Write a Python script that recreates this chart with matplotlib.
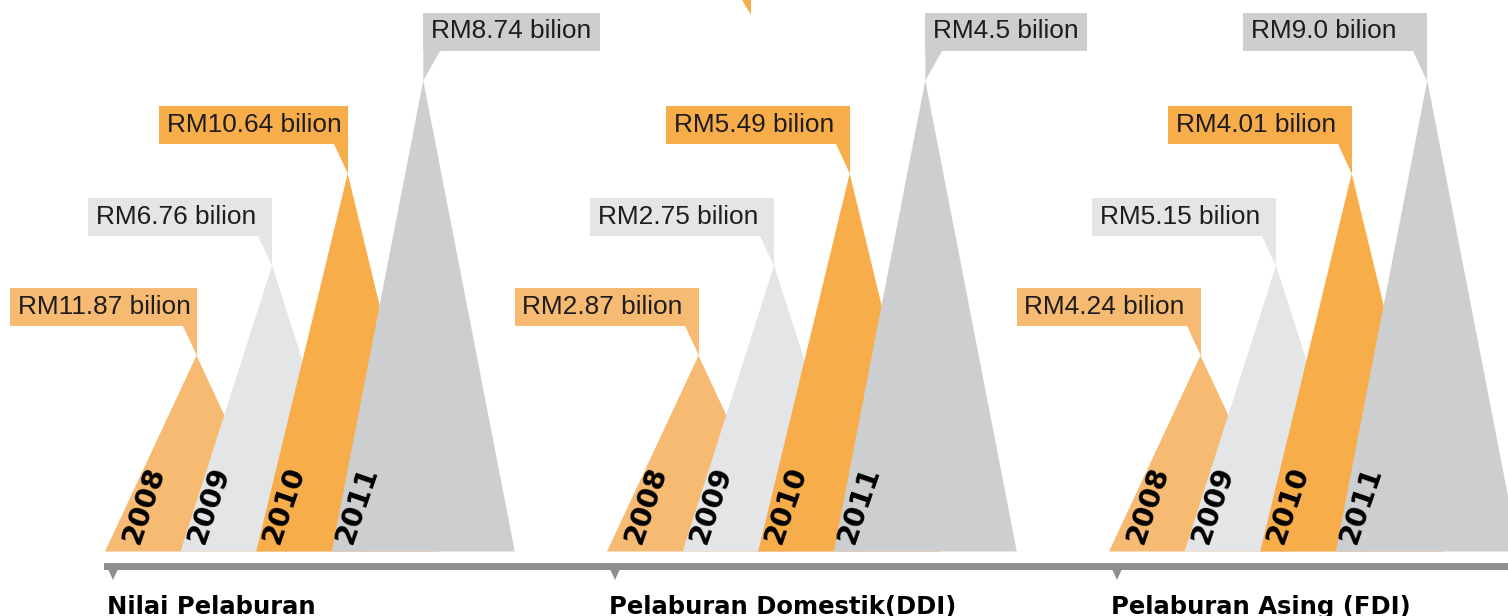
import matplotlib
matplotlib.use('Agg')
import matplotlib.pyplot as plt
from matplotlib.patches import Polygon, Rectangle

# ---- data ----
years = ['2008', '2009', '2010', '2011']
group_titles = ['Nilai Pelaburan', 'Pelaburan Domestik(DDI)', 'Pelaburan Asing (FDI)']
nilai_pelaburan = [11.87, 6.76, 10.64, 8.74]
pelaburan_ddi = [2.87, 2.75, 5.49, 4.5]
pelaburan_fdi = [4.24, 5.15, 4.01, 9.0]
groups = [nilai_pelaburan, pelaburan_ddi, pelaburan_fdi]

# ---- layout / style ----
W, H = 1508, 616
fig = plt.figure(figsize=(W / 100, H / 100), dpi=100)
ax = fig.add_axes([0, 0, 1, 1])
ax.set_xlim(0, W)
ax.set_ylim(H, 0)
ax.axis('off')

year_colors = ['#F7BA73', '#E4E5E7', '#F8AD4B', '#CDCED0']
text_color = '#1e1c1d'
bar_color = '#8D8D8D'
base_y = 551.5
group_x0 = 105
group_step = 502
tri_step = 75.6
half_w = 91.5
peak_heights = [196, 286, 378, 471]
year_label_dx = [39, 29, 28, 25]
label_font = 'Liberation Sans'
label_size = 18.9
box_h = 38
box_gap = 30
fixed_box_w = 184

renderer = fig.canvas.get_renderer()


def text_width(s, **kw):
    t = ax.text(0, 0, s, **kw)
    w = t.get_window_extent(renderer=renderer).width
    t.remove()
    return w


for g, (vals, title) in enumerate(zip(groups, group_titles)):
    gx = group_x0 + g * group_step
    for i, (yr, v) in enumerate(zip(years, vals)):
        left = gx + i * tri_step
        apex_x = left + half_w
        apex_y = base_y - peak_heights[i]
        col = year_colors[i]
        ax.add_patch(Polygon([(left, base_y), (apex_x, apex_y), (left + 2 * half_w, base_y)],
                             closed=True, facecolor=col, edgecolor='none', zorder=2 + i))
        # year label
        ax.text(left + year_label_dx[i], 505, yr, rotation=71, ha='center', va='center',
                fontsize=20.5, fontweight='bold', family='DejaVu Sans', color='black', zorder=10)
        # callout
        label = f"RM{v} bilion"
        tw = text_width(label, fontsize=label_size, family=label_font)
        box_bottom = apex_y - box_gap
        box_top = box_bottom - box_h
        if i == len(years) - 1 and apex_x + tw + 16 <= W:
            box_w = tw + 16
            bx0 = apex_x
            wedge = [(apex_x, box_bottom), (apex_x + 17, box_bottom), (apex_x, apex_y)]
        else:
            box_w = max(fixed_box_w, tw + 14)
            bx0 = apex_x - box_w
            wedge = [(apex_x - 14, box_bottom), (apex_x, box_bottom), (apex_x, apex_y)]
        ax.add_patch(Rectangle((bx0, box_top), box_w, box_h, facecolor=col,
                               edgecolor='none', zorder=8))
        ax.add_patch(Polygon(wedge, closed=True, facecolor=col, edgecolor='none', zorder=8))
        ax.text(bx0 + 8, box_bottom - 12, label, ha='left', va='baseline',
                fontsize=label_size, family=label_font, color=text_color, zorder=9)
    # axis marker and title
    mx = gx + 8
    ax.add_patch(Polygon([(mx - 5, 569), (mx + 5, 569), (mx, 580)], closed=True,
                         facecolor=bar_color, edgecolor='none', zorder=5))
    ax.text(gx + 2, 614, title, ha='left', va='baseline', fontsize=17.5,
            fontweight='bold', family='DejaVu Sans', color='black', zorder=10)

# horizontal axis bar
ax.add_patch(Rectangle((group_x0 - 1, 563), W - group_x0 + 1, 7, facecolor=bar_color,
                       edgecolor='none', zorder=5))

# orange pointer remnant at top edge
ax.add_patch(Polygon([(741.7, 0), (750.7, 0), (750.7, 15)], closed=True,
                     facecolor=year_colors[2], edgecolor='none', zorder=8))

fig.savefig('out.png', dpi=100)
